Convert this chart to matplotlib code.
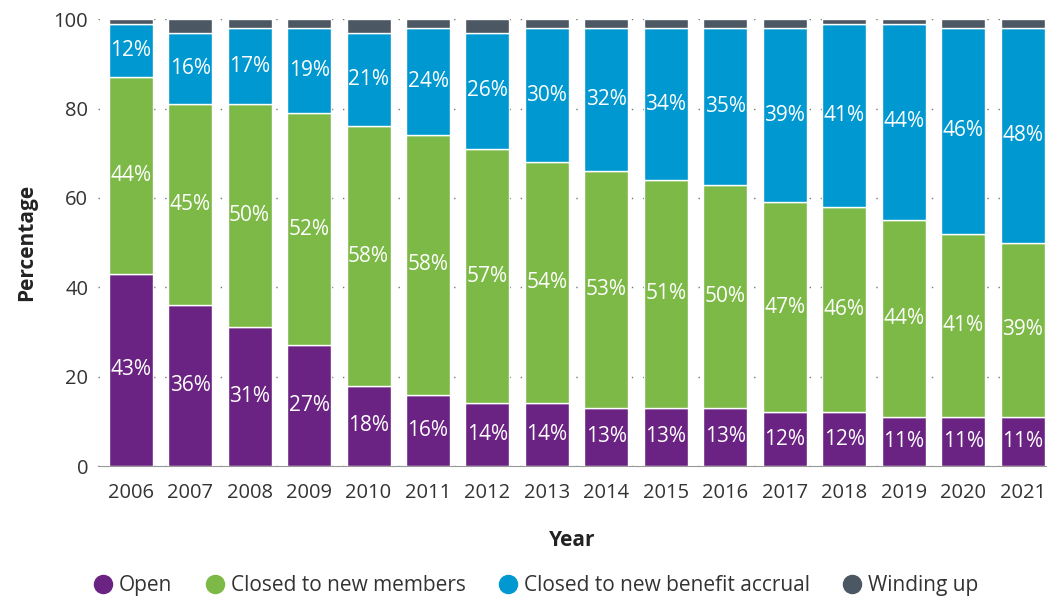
import numpy as np
import matplotlib.pyplot as plt
from matplotlib.lines import Line2D

plt.rcParams['font.family'] = ['Open Sans', 'DejaVu Sans']

years = ['2006', '2007', '2008', '2009', '2010', '2011', '2012', '2013',
         '2014', '2015', '2016', '2017', '2018', '2019', '2020', '2021']
open_pct = [43, 36, 31, 27, 18, 16, 14, 14, 13, 13, 13, 12, 12, 11, 11, 11]
closed_members = [44, 45, 50, 52, 58, 58, 57, 54, 53, 51, 50, 47, 46, 44, 41, 39]
closed_accrual = [12, 16, 17, 19, 21, 24, 26, 30, 32, 34, 35, 39, 41, 44, 46, 48]
winding_up = [1, 3, 2, 2, 3, 2, 3, 2, 2, 2, 2, 2, 1, 1, 2, 2]

series = [
    ('Open', open_pct, '#6a2382', True),
    ('Closed to new members', closed_members, '#7db946', True),
    ('Closed to new benefit accrual', closed_accrual, '#0098d0', True),
    ('Winding up', winding_up, '#4b5762', False),
]

fig = plt.figure(figsize=(10.48, 5.99), dpi=100)
ax = fig.add_axes([0.0935, 0.222, 0.905, 0.746])

x = np.arange(len(years))
bottom = np.zeros(len(years))
for name, vals, col, show in series:
    vals = np.array(vals, dtype=float)
    ax.bar(x, vals, 0.74, bottom=bottom, color=col, edgecolor='white',
           linewidth=1, zorder=3)
    if show:
        for xi, b, v in zip(x, bottom, vals):
            ax.text(xi, b + v / 2, f'{int(v)}%', ha='center', va='center',
                    color='white', fontsize=15, zorder=4)
    bottom += vals

ax.set_xlim(-0.55, 15.4)
ax.set_ylim(0, 100)
ax.set_yticks([0, 20, 40, 60, 80, 100])
ax.set_xticks(x)
ax.set_xticklabels(years)
ax.tick_params(axis='both', length=0, labelsize=14.5, colors='#333333')
ax.tick_params(axis='x', pad=12)
ax.tick_params(axis='y', pad=7)
ax.grid(axis='y', color='#777777', linestyle=(0, (1, 7)), linewidth=1, zorder=0)
for s in ['top', 'right', 'left']:
    ax.spines[s].set_visible(False)
ax.spines['bottom'].set_color('#999999')
ax.set_xlabel('Year', fontsize=15, fontweight='bold', color='#222222', labelpad=20)
ax.set_ylabel('Percentage', fontsize=15, fontweight='bold', color='#222222', labelpad=12)

handles = [Line2D([], [], marker='o', linestyle='none', markersize=13,
                  color=col, label=name) for name, _, col, _ in series]
fig.legend(handles=handles, loc='lower center', bbox_to_anchor=(0.512, -0.027),
           ncol=4, frameon=False, fontsize=15, handlelength=0.8,
           handletextpad=0.35, columnspacing=1.65, labelcolor='#333333')

fig.savefig('out.png', dpi=100)
